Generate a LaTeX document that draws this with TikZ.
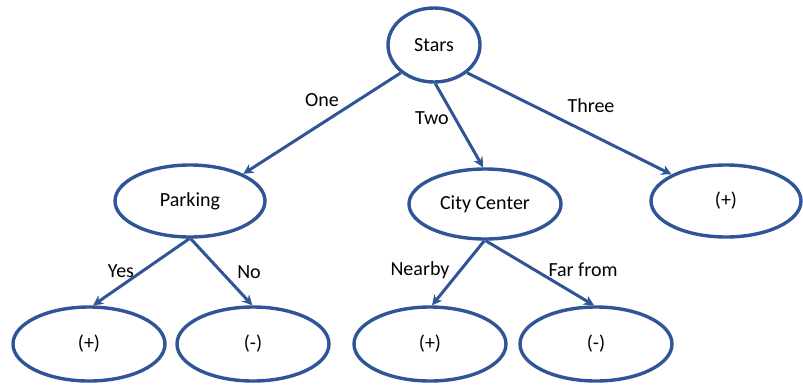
\documentclass[tikz,border=0pt]{standalone}
\usepackage{fontspec}
\setmainfont{Carlito}
\usetikzlibrary{arrows.meta,shapes.geometric}
\definecolor{edgeblue}{RGB}{47,85,151}
\begin{document}
\begin{tikzpicture}[x=1pt,y=-1pt,
  leaf/.style={ellipse, draw=edgeblue, line width=3.4pt, inner sep=0pt, font=\fontsize{20}{22}\selectfont},
  conn/.style={draw=edgeblue, line width=3pt, -{Stealth[length=10pt,width=10pt,inset=3pt]}},
  lbl/.style={font=\fontsize{20}{22}\selectfont, inner sep=0pt}]
\useasboundingbox (0,0) rectangle (803,384);
\node[leaf, minimum width=92pt, minimum height=74pt] (stars) at (434,45) {Stars};
\node[leaf, minimum width=150pt, minimum height=72pt] (parking) at (190,201) {Parking};
\node[leaf, minimum width=152pt, minimum height=70pt] (city) at (485,204) {City Center};
\node[leaf, minimum width=150pt, minimum height=72pt] (p3) at (726,201) {(+)};
\node[leaf, minimum width=152pt, minimum height=74pt] (b1) at (89,344) {(+)};
\node[leaf, minimum width=152pt, minimum height=74pt] (b2) at (253,344) {(-)};
\node[leaf, minimum width=152pt, minimum height=74pt] (b3) at (430,344) {(+)};
\node[leaf, minimum width=152pt, minimum height=74pt] (b4) at (596,344) {(-)};
\draw[conn] (stars.220) -- (parking.27);
\draw[conn] (stars.-88) -- (city.93);
\draw[conn] (stars.-40) -- (p3.154);
\draw[conn] (parking.-91) -- (b1.84);
\draw[conn] (parking.-89) -- (b2.91);
\draw[conn] (city.-91) -- (b3.87);
\draw[conn] (city.-89) -- (b4.93);
\node[lbl] (lone) at (322,100) {One};
\node[lbl] (ltwo) at (432,118) {Two};
\node[lbl] (lthree) at (591,106) {Three};
\node[lbl] (lyes) at (121,271) {Yes};
\node[lbl] (lno) at (249,272) {No};
\node[lbl] (lnear) at (420,270) {Nearby};
\node[lbl] (lfar) at (583,270) {Far from};
\end{tikzpicture}
\end{document}
